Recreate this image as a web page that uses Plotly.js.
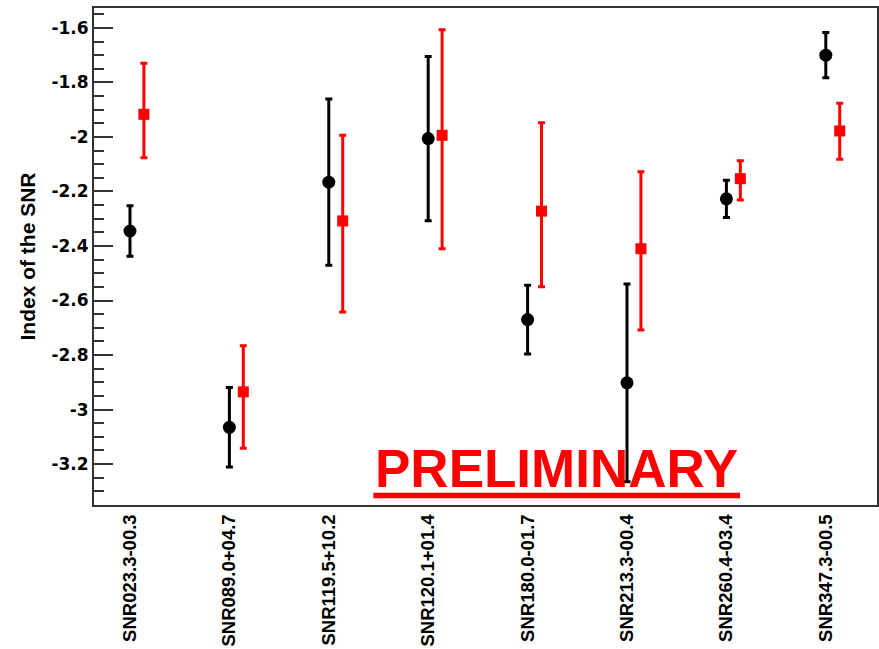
<!DOCTYPE html>
<html>
<head>
<meta charset="utf-8">
<script src="https://cdn.plot.ly/plotly-3.0.1.min.js"></script>
<style>html,body{margin:0;padding:0;background:#fff;}#chart{width:879px;height:649px;}</style>
</head>
<body>
<div id="chart"></div>
<script>
// Categories (supernova remnants)
const categories = ["SNR023.3-00.3","SNR089.0+04.7","SNR119.5+10.2","SNR120.1+01.4","SNR180.0-01.7","SNR213.3-00.4","SNR260.4-03.4","SNR347.3-00.5"];
// Black series (circles), symmetric errors
const blackValues = [-2.345, -3.065, -2.166, -2.006, -2.670, -2.902, -2.227, -1.700];
const blackErrors = [0.093, 0.146, 0.305, 0.301, 0.126, 0.363, 0.068, 0.083];
// Red series (squares), asymmetric errors
const redValues   = [-1.917, -2.935, -2.308, -1.994, -2.272, -2.410, -2.153, -1.978];
const redErrPlus  = [0.187, 0.169, 0.314, 0.387, 0.324, 0.282, 0.066, 0.102];
const redErrMinus = [0.159, 0.207, 0.334, 0.416, 0.277, 0.298, 0.078, 0.104];
// Y tick labels
const yTickVals = [-1.6, -1.8, -2.0, -2.2, -2.4, -2.6, -2.8, -3.0, -3.2];
const yTickText = ["-1.6", "-1.8", "-2", "-2.2", "-2.4", "-2.6", "-2.8", "-3", "-3.2"];

const idx = categories.map((c, i) => i);
const redOffset = 0.14;

const traces = [
  {
    type: 'scatter', mode: 'markers', name: 'black',
    x: idx, y: blackValues,
    marker: {symbol: 'circle', size: 13, color: '#000'},
    error_y: {type: 'data', array: blackErrors, visible: true, color: '#000', thickness: 3, width: 3.5},
    cliponaxis: false
  },
  {
    type: 'scatter', mode: 'markers', name: 'red',
    x: idx.map(i => i + redOffset), y: redValues,
    marker: {symbol: 'square', size: 11, color: '#ff0000'},
    error_y: {type: 'data', symmetric: false, array: redErrPlus, arrayminus: redErrMinus, visible: true, color: '#ff0000', thickness: 3, width: 3.5},
    cliponaxis: false
  }
];

const layout = {
  width: 879, height: 649,
  margin: {l: 94, r: 2, t: 8, b: 144},
  paper_bgcolor: '#fff', plot_bgcolor: '#fff',
  showlegend: false,
  xaxis: {
    range: [-0.362, 7.515],
    tickmode: 'array', tickvals: idx, ticktext: categories,
    tickangle: -90,
    tickfont: {family: 'Liberation Sans, Arial, sans-serif', size: 18.5, weight: 'bold', color: '#000'},
    ticks: '', showgrid: false, zeroline: false,
    showline: true, linecolor: '#333', linewidth: 2, mirror: true,
    ticklabelstandoff: 0
  },
  yaxis: {
    range: [-3.35, -1.527],
    tickmode: 'array', tickvals: yTickVals, ticktext: yTickText,
    ticks: 'inside', ticklen: 19, tickwidth: 2, tickcolor: '#333',
    minor: {tickmode: 'linear', tick0: -1.6, dtick: 0.05, ticks: 'inside', ticklen: 10, tickwidth: 2, tickcolor: '#333', showgrid: false},
    tickfont: {family: 'DejaVu Sans, sans-serif', size: 17, weight: 'bold', color: '#000'},
    showgrid: false, zeroline: false,
    showline: true, linecolor: '#333', linewidth: 2, mirror: true,
    title: {text: 'Index of the SNR', font: {family: 'Liberation Sans, Arial, sans-serif', size: 21, weight: 'bold', color: '#000'}, standoff: 10}
  },
  annotations: [{
    xref: 'paper', yref: 'paper', x: 0.5913, y: 0.073,
    xanchor: 'center', yanchor: 'middle', showarrow: false,
    text: 'PRELIMINARY',
    font: {family: 'Liberation Sans, Arial, sans-serif', size: 53, weight: 'bold', color: '#ff0000'}
  }],
  shapes: [{
    type: 'rect', xref: 'paper', yref: 'paper',
    x0: 0.3567, x1: 0.825, y0: 0.0135, y1: 0.0247,
    fillcolor: '#ff0000', line: {width: 0}
  }]
};

Plotly.newPlot('chart', traces, layout, {displayModeBar: false, staticPlot: true});
</script>
</body>
</html>
